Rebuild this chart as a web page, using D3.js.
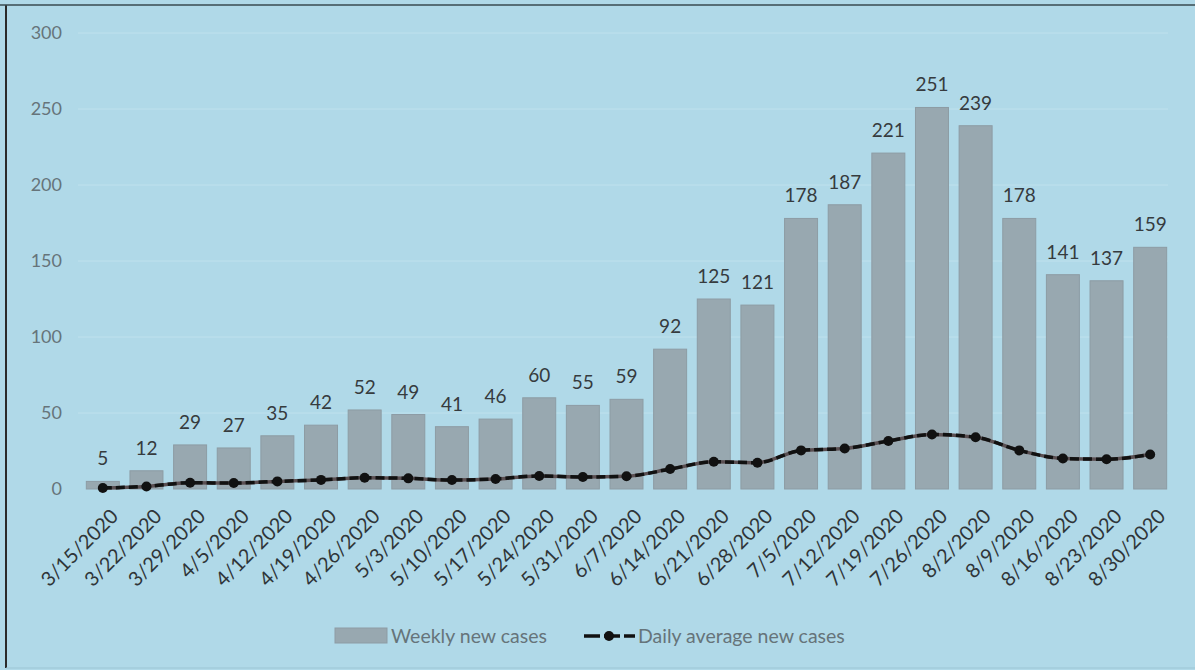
<!DOCTYPE html>
<html>
<head>
<meta charset="utf-8">
<script src="https://cdn.jsdelivr.net/npm/d3@7"></script>
<style>
  html, body { margin: 0; padding: 0; background: #b1d9e8; }
  svg { display: block; }
  text { font-family: Lato, "Open Sans", sans-serif; }
</style>
</head>
<body>
<svg id="chart" width="1195" height="670"></svg>
<script>
const categories = ["3/15/2020","3/22/2020","3/29/2020","4/5/2020","4/12/2020","4/19/2020","4/26/2020","5/3/2020","5/10/2020","5/17/2020","5/24/2020","5/31/2020","6/7/2020","6/14/2020","6/21/2020","6/28/2020","7/5/2020","7/12/2020","7/19/2020","7/26/2020","8/2/2020","8/9/2020","8/16/2020","8/23/2020","8/30/2020"];
const weeklyCases = [5,12,29,27,35,42,52,49,41,46,60,55,59,92,125,121,178,187,221,251,239,178,141,137,159];
const dailyAverage = [0.7,1.7,4.1,3.9,5.0,6.0,7.4,7.0,5.9,6.6,8.6,7.9,8.4,13.1,17.9,17.3,25.4,26.7,31.6,35.9,34.1,25.4,20.1,19.6,22.7];
const yTicks = [0,50,100,150,200,250,300];
const legendLabels = ["Weekly new cases","Daily average new cases"];

const svg = d3.select("#chart");
const W = 1195, H = 670;

svg.append("rect").attr("width", W).attr("height", H).attr("fill", "#b0d9e8");

// frame
svg.append("line").attr("x1", 6).attr("x2", 6).attr("y1", 5).attr("y2", 668).attr("stroke", "#2a2a2a").attr("stroke-width", 2);
svg.append("line").attr("x1", 0).attr("x2", 1195).attr("y1", 5).attr("y2", 5).attr("stroke", "#3a4a50").attr("stroke-width", 1.5);
svg.append("line").attr("x1", 6).attr("x2", 1195).attr("y1", 668).attr("y2", 668).attr("stroke", "#9cc5d4").attr("stroke-width", 1);

const x = d3.scaleBand().domain(categories).range([81, 1172]).paddingInner(0.244).paddingOuter(0.122);
const y = d3.scaleLinear().domain([0, 300]).range([489, 33]);

// gridlines
svg.append("g").selectAll("line").data(yTicks.slice(1)).join("line")
  .attr("x1", 78).attr("x2", 1168)
  .attr("y1", d => y(d)).attr("y2", d => y(d))
  .attr("stroke", "#bfe1ed").attr("stroke-width", 1);

// y axis labels
const yAxis = d3.axisLeft(y).tickValues(yTicks).tickSize(0).tickPadding(0);
const gy = svg.append("g").attr("transform", "translate(62,0)").call(yAxis);
gy.select(".domain").remove();
gy.selectAll("text").attr("font-size", 18).attr("fill", "#66747a").attr("font-family", "Lato, sans-serif");

// bars
svg.append("g").selectAll("rect").data(weeklyCases).join("rect")
  .attr("x", (d, i) => x(categories[i]))
  .attr("y", d => y(d))
  .attr("width", x.bandwidth())
  .attr("height", d => y(0) - y(d))
  .attr("fill", "#98a8b0")
  .attr("stroke", "#8d9ca4").attr("stroke-width", 1);

// bar labels
svg.append("g").selectAll("text").data(weeklyCases).join("text")
  .attr("x", (d, i) => x(categories[i]) + x.bandwidth() / 2)
  .attr("y", d => y(d) - 16)
  .attr("text-anchor", "middle")
  .attr("font-size", 19)
  .attr("fill", "#363b3e")
  .text(d => d);

// x axis labels
const xAxis = d3.axisBottom(x).tickSize(0).tickPadding(0);
const gx = svg.append("g").call(xAxis);
gx.select(".domain").remove();
gx.selectAll(".tick").attr("transform", d => `translate(${x(d) + x.bandwidth() / 2 + 6},507)`);
gx.selectAll("text")
  .attr("font-size", 20).attr("fill", "#2f3538").attr("font-family", "Lato, sans-serif")
  .attr("text-anchor", "end")
  .attr("x", 0).attr("y", 0).attr("dy", "0.75em")
  .attr("transform", "rotate(-45)");

// line
const cx = i => x(categories[i]) + x.bandwidth() / 2;
const line = d3.line().x((d, i) => cx(i)).y(d => y(d)).curve(d3.curveMonotoneX);
svg.append("path").datum(dailyAverage).attr("d", line)
  .attr("fill", "none").attr("stroke", "#5a4f52").attr("stroke-width", 3.5);
svg.append("path").datum(dailyAverage).attr("d", line)
  .attr("fill", "none").attr("stroke", "#111").attr("stroke-width", 3.5)
  .attr("stroke-dasharray", "9 4");
svg.append("g").selectAll("circle").data(dailyAverage).join("circle")
  .attr("cx", (d, i) => cx(i)).attr("cy", d => y(d)).attr("r", 5)
  .attr("fill", "#111");

// legend
const lg = svg.append("g");
lg.append("rect").attr("x", 335).attr("y", 628).attr("width", 52).attr("height", 15)
  .attr("fill", "#98a8b0").attr("stroke", "#8d9ca4");
lg.append("text").attr("x", 391).attr("y", 636).attr("dy", "0.35em")
  .attr("font-size", 19.5).attr("fill", "#66747a").text(legendLabels[0]);
lg.append("line").attr("x1", 584).attr("x2", 635).attr("y1", 636).attr("y2", 636)
  .attr("stroke", "#111").attr("stroke-width", 3.5).attr("stroke-dasharray", "16 4");
lg.append("circle").attr("cx", 609).attr("cy", 636).attr("r", 5).attr("fill", "#111");
lg.append("text").attr("x", 638).attr("y", 636).attr("dy", "0.35em")
  .attr("font-size", 19.5).attr("fill", "#66747a").text(legendLabels[1]);
</script>
</body>
</html>
